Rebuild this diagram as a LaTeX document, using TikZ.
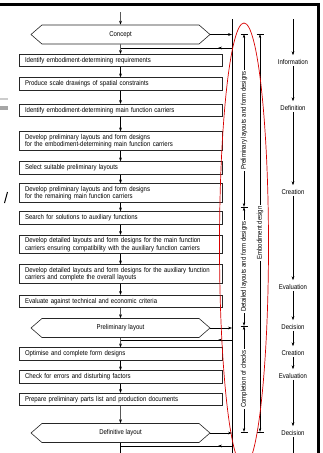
\documentclass[tikz,border=0pt]{standalone}
\usepackage{fontspec}
\setmainfont{Liberation Sans}[FakeStretch=0.86]
\usepackage{tikz}
\usetikzlibrary{shapes,arrows,positioning,calc,decorations.markings,arrows.meta}

\tikzset{
  txt/.style={font=\fontsize{7}{7.6}\selectfont},
  stepbox/.style={txt, draw=black!85, line width=0.6pt, text width=191pt, inner xsep=6pt, inner ysep=1.5pt, minimum height=12.5pt, align=left},
  tallbox/.style={stepbox, minimum height=18.5pt},
  gate/.style={txt, draw=black!85, line width=0.6pt, signal, signal to=east and west, signal pointer angle=82, minimum width=179pt, minimum height=19pt},
  flow/.style={-{Stealth[length=4pt,width=2.8pt]}, line width=0.5pt},
  back/.style={line width=0.5pt, postaction={decorate}, decoration={markings, mark=at position 14pt with {\arrow{Stealth[length=4pt,width=2.8pt]}}}},
  phase/.style={txt, inner sep=1pt},
  span/.style={{Stealth[length=4pt,width=2.4pt]}-{Stealth[length=4pt,width=2.4pt]}, line width=0.5pt},
  spanlabel/.style={txt, fill=white, rotate=90, inner sep=1.5pt},
}

\begin{document}
\begin{tikzpicture}[x=1pt,y=-1pt]
\useasboundingbox (0,0) rectangle (322,453);
\clip (0,0) rectangle (322,453);

% frame and stray marks
\fill (0,2.5) rectangle (319.5,6);
\fill (316.5,2.5) rectangle (319.5,453);
\fill[black!20] (0,98) rectangle (8,100);
\fill[black!35] (0,106) rectangle (8,110);
\draw[line width=1pt] (4.5,203) -- (7.5,192);

% main column
\node[gate] (concept) at (120.5,34.5) {Concept};
\node[stepbox] (req) at (120.5,60.5) {Identify embodiment-determining requirements};
\node[stepbox] (space) at (120.5,84) {Produce scale drawings of spatial constraints};
\node[stepbox] (carrier) at (120.5,110.5) {Identify embodiment-determining main function carriers};
\node[tallbox] (prelim) at (120.5,141) {Develop preliminary layouts and form designs\\for the embodiment-determining main function carriers};
\node[stepbox] (select) at (120.5,168) {Select suitable preliminary layouts};
\node[tallbox] (remain) at (120.5,193) {Develop preliminary layouts and form designs\\for the remaining main function carriers};
\node[stepbox] (aux) at (120.5,218) {Search for solutions to auxiliary functions};
\node[tallbox] (detmain) at (120.5,244.5) {Develop detailed layouts and form designs for the main function\\carriers ensuring compatibility with the auxiliary function carriers};
\node[tallbox] (detaux) at (120.5,274) {Develop detailed layouts and form designs for the auxiliary function\\carriers and complete the overall layouts};
\node[stepbox] (evaluate) at (120.5,301.5) {Evaluate against technical and economic criteria};
\node[gate] (prelay) at (120.5,328) {Preliminary layout};
\node[stepbox] (optimise) at (120.5,354) {Optimise and complete form designs};
\node[stepbox] (check) at (120.5,377) {Check for errors and disturbing factors};
\node[stepbox] (parts) at (120.5,399.5) {Prepare preliminary parts list and production documents};
\node[gate] (deflay) at (120.5,433) {Definitive layout};

\coordinate (in) at (120.5,12);
\coordinate (out) at (120.5,458);
\draw[flow] (in) -- (concept);
\foreach \a/\b in {concept/req, req/space, space/carrier, carrier/prelim, prelim/select, select/remain, remain/aux, aux/detmain, detmain/detaux, detaux/evaluate, evaluate/prelay, prelay/optimise, optimise/check, check/parts, parts/deflay}
  \draw[flow] (\a) -- (\b);
\draw[flow] (deflay) -- (out);

% feedback line
\coordinate (bustop) at (232,19);
\coordinate (busbot) at (232,453);
\draw[line width=0.5pt] (bustop) -- (busbot);
\foreach \g/\y in {concept/48, prelay/340, deflay/446} {
  \draw[flow] (\g.east) -- (\g.east -| bustop);
  \draw[back] (232,\y) -- (120.5,\y);
}

% extents
\coordinate (a1) at (244,34);
\coordinate (a2) at (244,207);
\coordinate (a3) at (244,326);
\coordinate (a4) at (244,432);
\coordinate (b1) at (260,34);
\coordinate (b2) at (260,432);
\foreach \p in {a1,a2,a3,a4,b1,b2}
  \draw[line width=0.5pt] ($(\p)+(-3.5,0)$) -- ($(\p)+(3.5,0)$);
\draw[span] (a1) -- (a2) node[midway, spanlabel] {Preliminary layouts and form designs};
\draw[span] (a2) -- (a3) node[midway, spanlabel] {Detailed layouts and form designs};
\draw[span] (a3) -- (a4) node[midway, spanlabel] {Completion of checks};
\draw[span] (b1) -- (b2) node[midway, spanlabel] {Embodiment design};

% steps of work
\node[phase] (info) at (293,62) {Information};
\node[phase] (defn) at (293,108) {Definition};
\node[phase] (create1) at (293,192) {Creation};
\node[phase] (eval1) at (293,287) {Evaluation};
\node[phase] (decide1) at (293,327) {Decision};
\node[phase] (create2) at (293,353) {Creation};
\node[phase] (eval2) at (293,376) {Evaluation};
\node[phase] (decide2) at (293,433) {Decision};
\coordinate (phin) at (293,19);
\coordinate (phout) at (293,458);
\draw[flow, shorten >=3pt] (phin) -- (info);
\foreach \a/\b in {info/defn, defn/create1, create1/eval1, eval1/decide1, decide1/create2, create2/eval2, eval2/decide2}
  \draw[flow, shorten >=3pt] (\a) -- (\b);
\draw[flow] (decide2) -- (phout);

% highlight
\draw[red!85!black, line width=0.7pt] (244,245) ellipse [x radius=24.5, y radius=222];
\end{tikzpicture}
\end{document}
